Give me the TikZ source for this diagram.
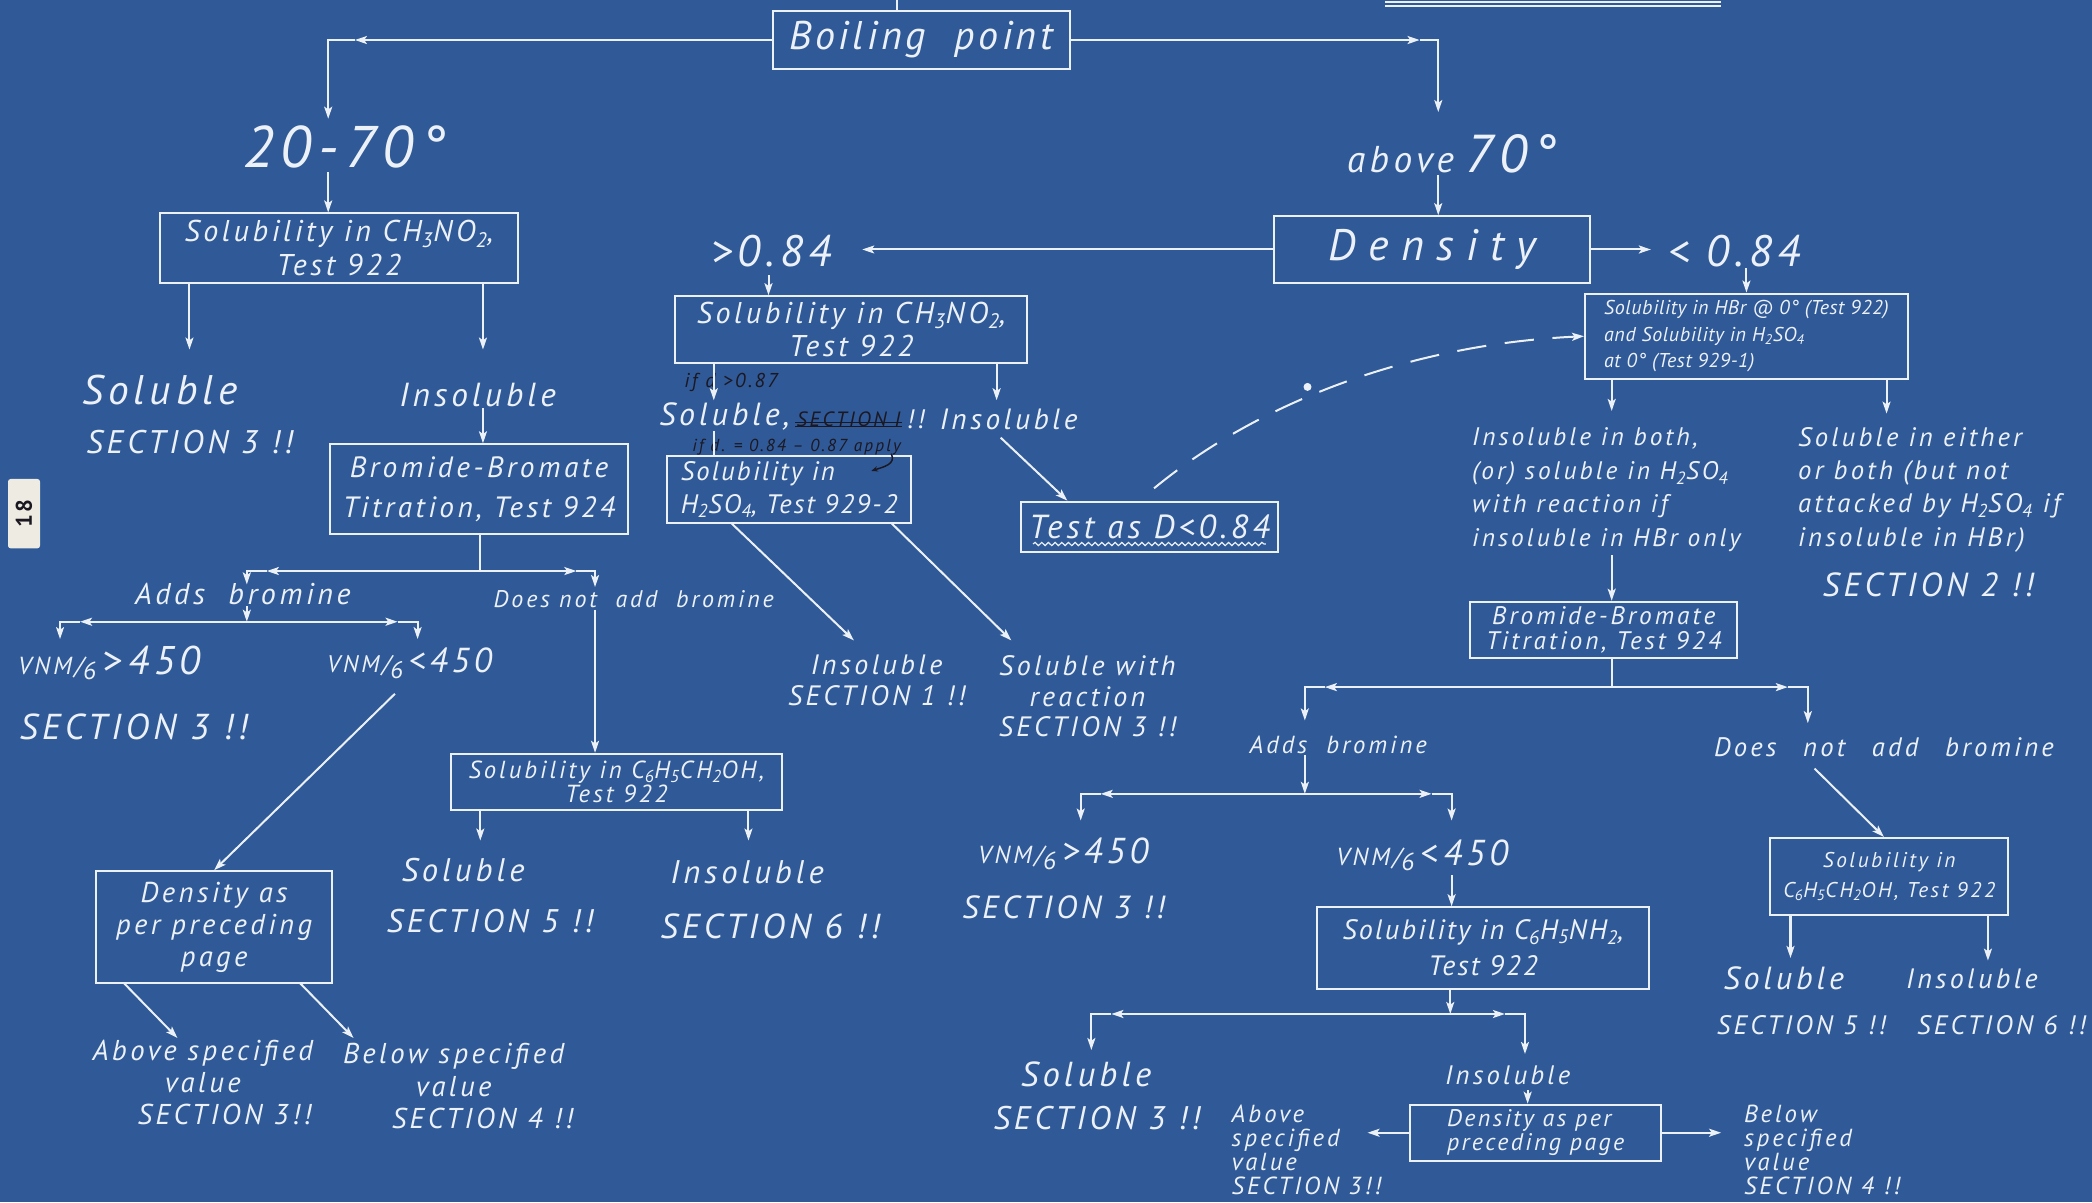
\documentclass[tikz,border=0pt]{standalone}
\usepackage{fontspec}
\setmainfont{PT Sans}[LetterSpace=12]
\usetikzlibrary{arrows.meta,decorations.pathmorphing,calc}
\definecolor{bp}{RGB}{47,89,151}
\definecolor{chalk}{RGB}{236,241,248}
\definecolor{ink}{RGB}{28,24,34}
\definecolor{paper}{RGB}{238,236,226}
\newcommand\fz[2]{\fontsize{#1}{#2}\selectfont\itshape}
\begin{document}
\begin{tikzpicture}[x=1pt,y=-1pt,
  wl/.style={draw=chalk,line width=1.5pt},
  arr/.style={wl,-{Stealth[length=9pt,width=6pt,inset=2pt]}},
  box/.style={draw=chalk,line width=1.5pt,text=chalk,align=center,inner sep=1pt,font=\fz{22.5}{25}},
  lab/.style={text=chalk,align=center,inner sep=1pt,font=\fz{22}{24}},
  note/.style={text=ink,align=center,inner sep=1pt,font=\fz{13}{15}}]
\fill[bp] (0,0) rectangle (1568,901);
\useasboundingbox (0,0) rectangle (1568,901);

% ---------- boxes ----------
\node[box,minimum width=223pt,minimum height=44pt,font=\fz{30}{32}] (boil) at (690.5,30) {\addfontfeatures{LetterSpace=9}Boiling\ \ point};
\node[box,minimum width=268pt,minimum height=52pt] (sol1) at (254,186) {Solubility in CH\textsubscript{3}NO\textsubscript{2},\\Test 922};
\node[box,minimum width=237pt,minimum height=50pt,font=\fz{33}{35}] (dens) at (1073.5,187) {\addfontfeatures{LetterSpace=28}Density};
\node[box,minimum width=264pt,minimum height=50pt] (sol2) at (638,247) {Solubility in CH\textsubscript{3}NO\textsubscript{2},\\Test 922};
\node[box,minimum width=242pt,minimum height=64pt,align=left,font=\fz{15}{20}] (hbr) at (1309,252) {\addfontfeatures{LetterSpace=3}Solubility in HBr @ 0° (Test 922)\\\addfontfeatures{LetterSpace=3}and Solubility in H\textsubscript{2}SO\textsubscript{4}\\\addfontfeatures{LetterSpace=3}at 0° (Test 929-1)};
\node[box,minimum width=224pt,minimum height=67pt,font=\fz{22}{30}] (bb1) at (359,366.5) {Bromide-Bromate\\Titration, Test 924};
\node[box,minimum width=183pt,minimum height=50pt,align=left,font=\fz{20}{25}] (h2so4) at (591.5,367) {\addfontfeatures{LetterSpace=8}Solubility in\\\addfontfeatures{LetterSpace=8}H\textsubscript{2}SO\textsubscript{4}, Test 929-2};
\node[box,minimum width=193pt,minimum height=38pt,font=\fz{25}{27}] (testd) at (861.5,395) {Test as D<0.84};
\node[box,minimum width=200pt,minimum height=42pt,font=\fz{19}{19}] (bb2) at (1202,472) {Bromide-Bromate\\Titration, Test 924};
\node[box,minimum width=248pt,minimum height=42pt,font=\fz{18.5}{18}] (benz1) at (462,586) {Solubility in C\textsubscript{6}H\textsubscript{5}CH\textsubscript{2}OH,\\Test 922};
\node[box,minimum width=177pt,minimum height=84pt,font=\fz{21.5}{24}] (densL) at (160.5,695) {Density as\\per preceding\\page};
\node[box,minimum width=178pt,minimum height=58pt,font=\fz{16}{22}] (benz2) at (1416,657) {Solubility in\\C\textsubscript{6}H\textsubscript{5}CH\textsubscript{2}OH, Test 922};
\node[box,minimum width=249pt,minimum height=61pt,font=\fz{21}{27}] (anil) at (1111.5,710.5) {\addfontfeatures{LetterSpace=8}Solubility in C\textsubscript{6}H\textsubscript{5}NH\textsubscript{2},\\\addfontfeatures{LetterSpace=8}Test 922};
\node[box,minimum width=188pt,minimum height=42pt,align=left,font=\fz{18}{18}] (densR) at (1151,849) {\addfontfeatures{LetterSpace=10}Density as per\\\addfontfeatures{LetterSpace=10}preceding page};

% ---------- labels ----------
\node[lab,font=\fz{44}{46}] (t2070) at (258,110) {20-70°};
\node[lab] (tab70) at (1088,115) {{\fz{28}{30}above} {\fz{40}{42}70°}};
\node[lab,font=\fz{33}{35}] (gt084) at (578,188) {>0.84};
\node[lab,font=\fz{33}{35}] (lt084) at (1300,188) {< 0.84};

\node[lab,font=\fz{31}{33}] (solL) at (120,292) {Soluble};
\node[lab,font=\fz{24.5}{26}] (sec3a) at (142,331) {SECTION 3 !!};
\node[lab,font=\fz{25}{27}] (insL) at (358,296) {Insoluble};
\node[lab,font=\fz{22.5}{24}] (addsL) at (182,445) {Adds\ \ bromine};
\node[lab,font=\fz{18}{20}] (dnaL) at (475,449) {Does not\ \ add\ \ bromine};
\node[lab] (vnmgtL) at (82,497) {{\fz{18.5}{20}VNM/\raisebox{-.45ex}{6}}{\fz{30}{32}\,>\,450}};
\node[lab,font=\fz{27}{29}] (sec3b) at (100,545) {SECTION 3 !!};
\node[lab] (vnmltL) at (307,497) {{\fz{18}{20}VNM/\raisebox{-.45ex}{6}}{\fz{26}{30}\,<450}};
\node[lab,font=\fz{24.5}{26}] (solL2) at (347,652) {Soluble};
\node[lab,font=\fz{24.5}{26}] (sec5a) at (367,690) {SECTION 5 !!};
\node[lab,font=\fz{24.5}{26}] (insL2) at (560,654) {Insoluble};
\node[lab,font=\fz{26}{28}] (sec6a) at (577,694) {SECTION 6 !!};
\node[lab,font=\fz{21.5}{24}] (aboveL) at (152,811) {Above specified\\value\\\hspace*{1.5em}SECTION 3!!};
\node[lab,font=\fz{21.5}{24}] (belowL) at (340,814) {Below specified\\value\\\hspace*{2em}SECTION 4 !!};

\node[note,font=\fz{15}{17}] (if087) at (548,287) {if d >0.87};
\node[lab,font=\fz{24}{26}] (solS1) at (543,312) {Soluble,};
\node[note,font=\fz{15.5}{18}] (sect1) at (636,314) {SECTION I};
\node[lab,font=\fz{20}{22}] (bang1) at (686,314) {!!};
\node[lab,font=\fz{22}{24}] (insM) at (756,314) {Insoluble};
\node[note,font=\fz{13}{15}] (apply) at (597,335) {if d. = 0.84 -- 0.87 apply};
\node[lab,font=\fz{21}{23}] (insM2) at (657,510) {Insoluble\\SECTION 1 !!};
\node[lab,font=\fz{21}{23}] (swr) at (815,522) {Soluble with\\reaction\\SECTION 3 !!};

\node[lab,align=left,font=\fz{19}{25}] (insboth) at (1204,367) {Insoluble in both,\\(or) soluble in H\textsubscript{2}SO\textsubscript{4}\\with reaction if\\insoluble in HBr only};
\node[lab,align=left,font=\fz{20}{25}] (either) at (1446,367) {Soluble in either\\or both (but not\\attacked by H\textsubscript{2}SO\textsubscript{4} if\\insoluble in HBr)};
\node[lab,font=\fz{25}{27}] (sec2) at (1445,438) {SECTION 2 !!};
\node[lab,font=\fz{18.5}{20}] (addsR) at (1003,558) {Adds\ \ bromine};
\node[lab,font=\fz{20}{22}] (dnaR) at (1412,560) {Does\quad not\quad add\quad bromine};
\node[lab] (vnmgtR) at (797,640) {{\fz{18.5}{20}VNM/\raisebox{-.45ex}{6}}{\fz{27}{30}\,>450}};
\node[lab,font=\fz{24}{26}] (sec3c) at (797,680) {SECTION 3 !!};
\node[lab] (vnmltR) at (1066,641) {{\fz{18.5}{20}VNM/\raisebox{-.45ex}{6}}{\fz{27}{30}\,<\,450}};
\node[lab,font=\fz{26}{28}] (solR) at (814,805) {Soluble};
\node[lab,font=\fz{24.5}{26}] (sec3d) at (822,838) {SECTION 3 !!};
\node[lab,font=\fz{20}{22}] (insR) at (1130,806) {Insoluble};
\node[lab,align=left,font=\fz{18.5}{18}] (aboveR) at (922,862) [anchor=west] {Above\\specified\\value\\SECTION 3!!};
\node[lab,align=left,font=\fz{18.5}{18}] (belowR) at (1306,862) [anchor=west] {Below\\specified\\value\\SECTION 4 !!};
\node[lab,font=\fz{24}{26}] (solR2) at (1337,733) {Soluble};
\node[lab,font=\fz{20}{25}] (sec5b) at (1350,768) {SECTION 5 !!};
\node[lab,font=\fz{21}{24}] (insR2) at (1478,734) {Insoluble};
\node[lab,font=\fz{20}{25}] (sec6b) at (1500,768) {SECTION 6 !!};

% sticker
\node[fill=paper,rounded corners=2pt,rotate=90,minimum width=52pt,minimum height=24pt,text=ink,font=\fontsize{17}{18}\selectfont\bfseries] (stk) at (18,385) {18};

% ---------- connectors: top ----------
\coordinate (top) at (672,0);
\draw[wl] (top) -- (top |- boil.north);
\coordinate (lca) at (266,30); \coordinate (lc) at (246,30);
\coordinate (l1) at (246,89); \coordinate (l2) at (246,129);
\draw[arr] (boil.west) -- (lca);
\draw[arr] (lca) -- (lc) -- (l1);
\draw[arr] (l2) -- (l2 |- sol1.north);
\coordinate (rca) at (1064,30); \coordinate (rc) at (1078,30);
\coordinate (r1) at (1078,84); \coordinate (r2) at (1078,131);
\draw[arr] (boil.east) -- (rca);
\draw[arr] (rca) -- (rc) -- (r1);
\draw[arr] (r2) -- (r2 |- dens.north);
\draw[arr,shorten >=22pt] (dens.west) -- (gt084.east |- dens.west);
\draw[arr,shorten >=12pt] (dens.east) -- (lt084.west |- dens.east);
\draw[arr] (hbr.north |- lt084.south) -- (hbr.north);
\coordinate (g1) at (576,206);
\draw[arr] (g1) -- (g1 |- sol2.north);

% ---------- left column ----------
\coordinate (a1) at (142,262); \coordinate (a2) at (362,262);
\draw[arr] (a1 |- sol1.south) -- (a1);
\draw[arr] (a2 |- sol1.south) -- (a2);
\draw[arr] (a2 |- insL.south) -- (a2 |- bb1.north);
\coordinate (b1) at (360,428);
\draw[wl] (b1 |- bb1.south) -- (b1);
\coordinate (b1la) at (200,428); \coordinate (b1l) at (185,428); \coordinate (b1ld) at (185,438);
\coordinate (b1ra) at (432,428); \coordinate (b1r) at (446,428); \coordinate (b1rd) at (446,440);
\draw[arr] (b1) -- (b1la); \draw[arr] (b1la) -- (b1l) -- (b1ld);
\draw[arr] (b1) -- (b1ra); \draw[arr] (b1ra) -- (b1r) -- (b1rd);
\coordinate (c1) at (185,466);
\draw[arr] (c1 |- addsL.south) -- (c1);
\coordinate (c1la) at (60,466); \coordinate (c1l) at (45,466); \coordinate (c1ld) at (45,479);
\coordinate (c1ra) at (298,466); \coordinate (c1r) at (313,466); \coordinate (c1rd) at (313,479);
\draw[arr] (c1) -- (c1la); \draw[arr] (c1la) -- (c1l) -- (c1ld);
\draw[arr] (c1) -- (c1ra); \draw[arr] (c1ra) -- (c1r) -- (c1rd);
\coordinate (d1) at (296,520);
\draw[arr] (d1) -- (densL.north);
\coordinate (e1) at (446,457);
\draw[arr] (e1) -- (e1 |- benz1.north);
\coordinate (f1) at (360,630); \coordinate (f2) at (561,630);
\draw[arr] (f1 |- benz1.south) -- (f1);
\draw[arr] (f2 |- benz1.south) -- (f2);
\coordinate (dl1) at (93,737); \coordinate (dl1e) at (133,778);
\coordinate (dl2) at (225,737); \coordinate (dl2e) at (265,778);
\draw[arr] (dl1) -- (dl1e);
\draw[arr] (dl2) -- (dl2e);

% ---------- middle column ----------
\coordinate (m1) at (535,300); \coordinate (m2) at (747,300);
\draw[arr] (m1 |- sol2.south) -- (m1);
\draw[arr] (m2 |- sol2.south) -- (m2);
\coordinate (m3) at (535,323);
\draw[wl] (m3) -- (m3 |- h2so4.north);
\coordinate (h1) at (548,392); \coordinate (h1e) at (640,480);
\coordinate (h2) at (668,392); \coordinate (h2e) at (758,480);
\draw[arr] (h1) -- (h1e);
\draw[arr] (h2) -- (h2e);
\coordinate (i1) at (750,328);
\draw[arr] (i1) -- (testd.north -| 800,0);
\coordinate (ds) at (865,366);
\draw[wl,dashed,dash pattern=on 22pt off 14pt,-{Stealth[length=9pt,width=6pt,inset=2pt]}] (ds) .. controls (945,300) and (1060,258) .. (hbr.west);
\fill[chalk] (980,290) circle (3pt);
\draw[chalk,line width=0.9pt,decorate,decoration={snake,amplitude=1.2pt,segment length=5pt}] ($(testd.south west)+(10,-7)$) -- ($(testd.south east)+(-10,-7)$);
% ink annotations
\draw[ink,line width=1.2pt] ($(sect1.south west)+(0,-1)$) -- ($(sect1.south east)+(0,-1)$);
\draw[ink,line width=1.2pt] ($(sect1.south west)+(0,-4)$) -- ($(sect1.south east)+(0,-4)$);
\coordinate (k1) at (668,340); \coordinate (k2) at (653,353);
\draw[ink,line width=1.1pt,-{Stealth[length=5pt,width=4pt]}] (k1) .. controls (672,348) and (662,350) .. (k2);

% ---------- right column ----------
\coordinate (n1) at (1208,308); \coordinate (n2) at (1414,310);
\draw[arr] (n1 |- hbr.south) -- (n1);
\draw[arr] (n2 |- hbr.south) -- (n2);
\coordinate (n3) at (1208,416);
\draw[arr] (n3) -- (n3 |- bb2.north);
\coordinate (p1) at (1208,515);
\draw[wl] (p1 |- bb2.south) -- (p1);
\coordinate (p1la) at (993,515); \coordinate (p1l) at (978,515); \coordinate (p1ld) at (978,540);
\coordinate (p1ra) at (1340,515); \coordinate (p1r) at (1355,515); \coordinate (p1rd) at (1355,542);
\draw[arr] (p1) -- (p1la); \draw[arr] (p1la) -- (p1l) -- (p1ld);
\draw[arr] (p1) -- (p1ra); \draw[arr] (p1ra) -- (p1r) -- (p1rd);
\coordinate (q1) at (978,595);
\draw[arr] (q1 |- addsR.south) -- (q1);
\coordinate (q1la) at (825,595); \coordinate (q1l) at (810,595); \coordinate (q1ld) at (810,615);
\coordinate (q1ra) at (1073,595); \coordinate (q1r) at (1088,595); \coordinate (q1rd) at (1088,615);
\draw[arr] (q1) -- (q1la); \draw[arr] (q1la) -- (q1l) -- (q1ld);
\draw[arr] (q1) -- (q1ra); \draw[arr] (q1ra) -- (q1r) -- (q1rd);
\coordinate (v1) at (1088,656);
\draw[arr] (v1) -- (v1 |- anil.north);
\coordinate (w1) at (1087,760);
\draw[arr] (w1 |- anil.south) -- (w1);
\coordinate (w1la) at (833,760); \coordinate (w1l) at (818,760); \coordinate (w1ld) at (818,787);
\coordinate (w1ra) at (1128,760); \coordinate (w1r) at (1143,760); \coordinate (w1rd) at (1143,790);
\draw[arr] (w1) -- (w1la); \draw[arr] (w1la) -- (w1l) -- (w1ld);
\draw[arr] (w1) -- (w1ra); \draw[arr] (w1ra) -- (w1r) -- (w1rd);
\coordinate (x1) at (1145,817);
\draw[arr] (x1) -- (x1 |- densR.north);
\coordinate (x2) at (1025,851); \coordinate (x3) at (1290,851);
\draw[arr] (densR.west) -- (x2 |- densR.west);
\draw[arr] (densR.east) -- (x3 |- densR.east);
\coordinate (y1) at (1360,576);
\draw[arr] (y1) -- (benz2.north -| 1412,0);
\coordinate (z1) at (1342,718); \coordinate (z2) at (1490,720);
\draw[arr] (z1 |- benz2.south) -- (z1);
\draw[arr] (z2 |- benz2.south) -- (z2);

% top right partial double underline
\draw[chalk,line width=0.8pt] (1038,1.5) -- (1290,1.5);
\draw[chalk,line width=0.8pt] (1038,4.5) -- (1290,4.5);
\end{tikzpicture}
\end{document}
